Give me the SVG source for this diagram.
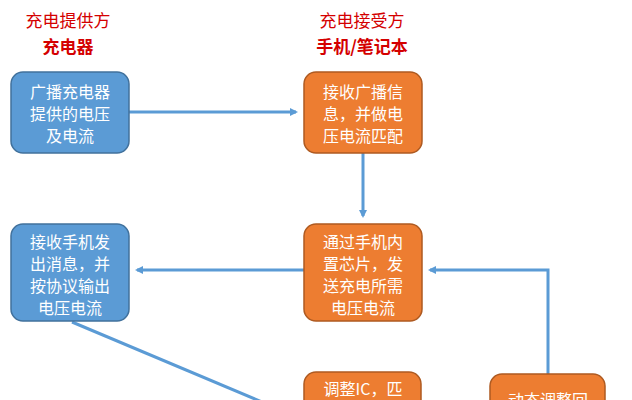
<svg xmlns="http://www.w3.org/2000/svg" width="632" height="400" viewBox="0 0 632 400">
<style>
.b{fill:#5b9bd5;stroke:#41719c;stroke-width:1.5}
.o{fill:#ed7d31;stroke:#ae5a21;stroke-width:1.5}
.t{fill:#fff;font-family:"Noto Sans CJK SC",sans-serif;font-size:16px;text-anchor:middle}
.h{fill:#d40000;font-family:"Noto Sans CJK SC",sans-serif;font-size:17px;text-anchor:middle}
.c{stroke:#5b9bd5;stroke-width:3;fill:none}
</style>
<defs><marker id="a" markerWidth="8" markerHeight="8" refX="6" refY="4" orient="auto" markerUnits="userSpaceOnUse"><path d="M0,0L8,4L0,8z" fill="#5b9bd5"/></marker></defs>
<rect width="632" height="400" fill="#fff"/>
<g id="headers">
<text class="h" x="68" y="27">充电提供方</text>
<text class="h" x="68" y="53" font-weight="bold">充电器</text>
<text class="h" x="362" y="27">充电接受方</text>
<text class="h" x="362" y="53" font-weight="bold">手机/笔记本</text>
</g>
<g id="connectors">
<path class="c" d="M129,112H296" marker-end="url(#a)"/>
<path class="c" d="M363,153V216" marker-end="url(#a)"/>
<path class="c" d="M304,270H137" marker-end="url(#a)"/>
<path class="c" d="M548,374V270H430" marker-end="url(#a)"/>
<path class="c" d="M72,322L262,402"/>
</g>
<g id="n1"><rect class="b" x="11" y="72" width="118" height="81" rx="12"/>
<text class="t" x="70" y="98">广播充电器</text><text class="t" x="70" y="120">提供的电压</text><text class="t" x="70" y="142">及电流</text></g>
<g id="n2"><rect class="o" x="304" y="72" width="118" height="81" rx="12"/>
<text class="t" x="363" y="98">接收广播信</text><text class="t" x="363" y="120">息，并做电</text><text class="t" x="363" y="142">压电流匹配</text></g>
<g id="n3"><rect class="b" x="11" y="224" width="118" height="97" rx="12"/>
<text class="t" x="70" y="248">接收手机发</text><text class="t" x="70" y="270">出消息，并</text><text class="t" x="70" y="292">按协议输出</text><text class="t" x="70" y="314">电压电流</text></g>
<g id="n4"><rect class="o" x="304" y="224" width="118" height="97" rx="12"/>
<text class="t" x="363" y="248">通过手机内</text><text class="t" x="363" y="270">置芯片，发</text><text class="t" x="363" y="292">送充电所需</text><text class="t" x="363" y="314">电压电流</text></g>
<g id="n5"><rect class="o" x="304" y="372" width="117" height="60" rx="12"/>
<text class="t" x="363" y="395">调整IC，匹</text></g>
<g id="n6"><rect class="o" x="490" y="374" width="115" height="60" rx="12"/>
<text class="t" x="548" y="406">动态调整回</text></g>
</svg>
